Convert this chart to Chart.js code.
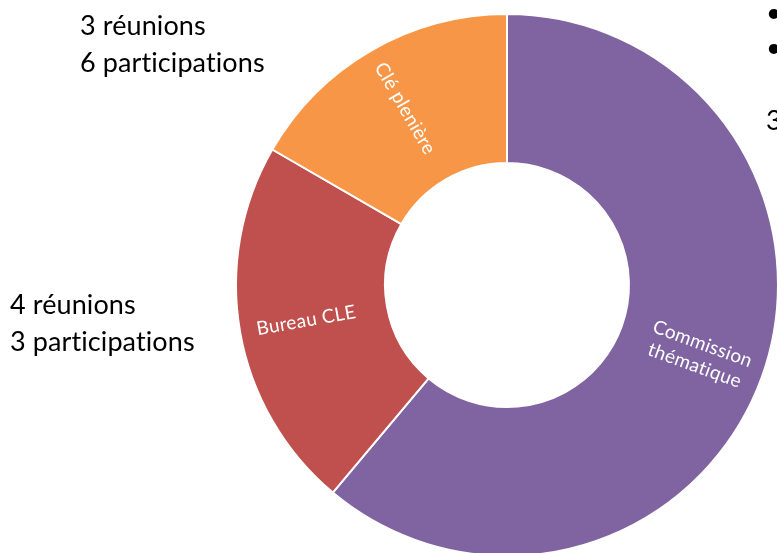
<!DOCTYPE html>
<html lang="fr">
<head>
<meta charset="utf-8">
<title>Réunions</title>
<script src="https://cdn.jsdelivr.net/npm/chart.js@4/dist/chart.umd.min.js"></script>
<style>
  html, body { margin: 0; padding: 0; background: #fff; overflow: hidden; }
  #wrap { position: absolute; left: 0; top: 0; width: 800px; height: 600px; }
</style>
</head>
<body>
<div id="wrap"><canvas id="ring"></canvas></div>
<script>
// meetings held per body, clockwise from the top
var categories = [['Commission', 'thématique'], ['Bureau CLE'], ['Clé plenière']];
var meetings = [11, 4, 3];
var sliceColours = ['#8064A2', '#C0504D', '#F79646'];

// side notes of the slide
var notes = [
  { lines: ['3 réunions', '6 participations'], x: 80, y: 35 },
  { lines: ['4 réunions', '3 participations'], x: 10, y: 314 }
];
var rightText = [
  { text: '•', x: 766, y: 22 },
  { text: '•', x: 766, y: 57 },
  { text: '3', x: 766, y: 130 }
];

var FONT = 'Lato, "Open Sans", sans-serif';

// white names inside each slice, turned along the radius
var sliceLabels = {
  id: 'sliceLabels',
  afterDatasetsDraw: function (chart) {
    var ctx = chart.ctx;
    var meta = chart.getDatasetMeta(0);
    ctx.save();
    ctx.fillStyle = '#fff';
    ctx.font = '19px ' + FONT;
    ctx.letterSpacing = '0.3px'; // also keeps "ti" from turning into a ligature
    ctx.textAlign = 'center';
    ctx.textBaseline = 'middle';
    meta.data.forEach(function (arc, i) {
      var p = arc.getProps(['x', 'y', 'startAngle', 'endAngle', 'innerRadius', 'outerRadius'], true);
      var mid = (p.startAngle + p.endAngle) / 2;
      var r = p.innerRadius + (p.outerRadius - p.innerRadius) * 0.55;
      var rot = mid;
      while (rot > Math.PI / 2) rot -= Math.PI;
      while (rot <= -Math.PI / 2) rot += Math.PI;
      var lines = categories[i];
      ctx.save();
      ctx.translate(p.x + Math.cos(mid) * r, p.y + Math.sin(mid) * r);
      ctx.rotate(rot);
      lines.forEach(function (t, j) {
        ctx.fillText(t, 0, (j - (lines.length - 1) / 2) * 23);
      });
      ctx.restore();
    });
    ctx.restore();
  }
};

var sideNotes = {
  id: 'sideNotes',
  afterDraw: function (chart) {
    var ctx = chart.ctx;
    ctx.save();
    ctx.fillStyle = '#000';
    ctx.font = '27px ' + FONT;
    ctx.letterSpacing = '0.1px';
    ctx.textBaseline = 'alphabetic';
    notes.forEach(function (n) {
      n.lines.forEach(function (t, j) {
        ctx.fillText(t, n.x, n.y + j * 37);
      });
    });
    rightText.forEach(function (t) {
      ctx.fillText(t.text, t.x, t.y);
    });
    ctx.restore();
  }
};

new Chart(document.getElementById('ring'), {
  type: 'doughnut',
  data: {
    labels: categories.map(function (c) { return c.join(' '); }),
    datasets: [{
      data: meetings,
      backgroundColor: sliceColours,
      borderColor: '#fff',
      borderWidth: 2
    }]
  },
  options: {
    responsive: true,
    maintainAspectRatio: false,
    animation: false,
    cutout: '45%',
    layout: { padding: { left: 235, top: 13, right: 21, bottom: 43 } },
    plugins: { legend: { display: false }, tooltip: { enabled: false } }
  },
  plugins: [sliceLabels, sideNotes]
});
</script>
</body>
</html>
